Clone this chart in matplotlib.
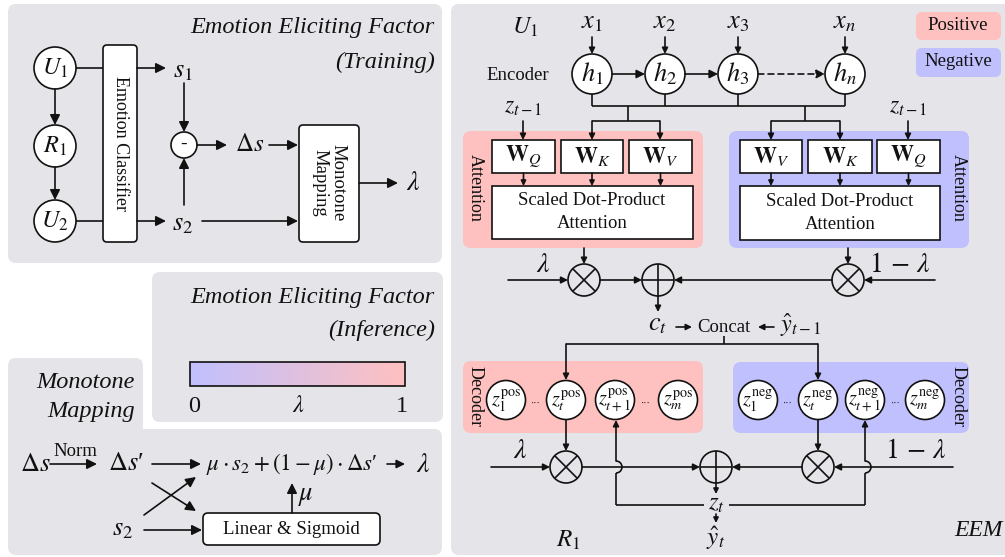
import matplotlib
matplotlib.use('Agg')
import matplotlib.pyplot as plt
from matplotlib.patches import FancyBboxPatch, Circle, Rectangle, Arc
from matplotlib.colors import LinearSegmentedColormap
import numpy as np

plt.rcParams['font.family'] = ['Liberation Serif', 'DejaVu Serif']
plt.rcParams['mathtext.fontset'] = 'stix'

# ---------------- text content ----------------
train_title = ['Emotion Eliciting Factor', '(Training)']
infer_title = ['Emotion Eliciting Factor', '(Inference)']
mono_title = ['Monotone', 'Mapping']
train_nodes = [r'$U_1$', r'$R_1$', r'$U_2$']
train_scores = [r'$s_1$', r'$s_2$']
encoder_inputs = [r'$x_1$', r'$x_2$', r'$x_3$', r'$x_n$']
encoder_states = [r'$h_1$', r'$h_2$', r'$h_3$', r'$h_n$']
pos_proj = [r'$\mathbf{W}_Q$', r'$\mathbf{W}_K$', r'$\mathbf{W}_V$']
neg_proj = [r'$\mathbf{W}_V$', r'$\mathbf{W}_K$', r'$\mathbf{W}_Q$']
pos_dec = [r'$z_1^{\mathrm{pos}}$', r'$z_t^{\mathrm{pos}}$', r'$z_{t+1}^{\mathrm{pos}}$', r'$z_m^{\mathrm{pos}}$']
neg_dec = [r'$z_1^{\mathrm{neg}}$', r'$z_t^{\mathrm{neg}}$', r'$z_{t+1}^{\mathrm{neg}}$', r'$z_m^{\mathrm{neg}}$']
legend_labels = ['Positive', 'Negative']
cbar_ticks = ['0', r'$\lambda$', '1']
weights = [r'$\lambda$', r'$1\,-\,\lambda$']

PANEL = '#e5e4e8'
POS = '#ffc0c0'
NEG = '#c0c0ff'
K = '#111111'
LW = 1.2

fig = plt.figure(figsize=(10.05, 5.57), dpi=100)
ax = fig.add_axes([0, 0, 1, 1])
ax.set_xlim(0, 1005)
ax.set_ylim(557, 0)
ax.axis('off')


def rbox(x0, y0, x1, y1, fc, ec='none', r=8, lw=LW, z=1):
    p = FancyBboxPatch((x0, y0), x1 - x0, y1 - y0,
                       boxstyle=f'round,pad=0,rounding_size={r}',
                       fc=fc, ec=ec, lw=lw, zorder=z)
    ax.add_patch(p)


def rect(x0, y0, x1, y1, fc='white', z=3):
    ax.add_patch(Rectangle((x0, y0), x1 - x0, y1 - y0, fc=fc, ec=K, lw=LW, zorder=z))


def arrow(x0, y0, x1, y1, ms=12, ls='-'):
    ax.annotate('', xy=(x1, y1), xytext=(x0, y0),
                arrowprops=dict(arrowstyle='-|>,head_length=0.5,head_width=0.25',
                                mutation_scale=ms, lw=LW, color=K, linestyle=ls,
                                shrinkA=0, shrinkB=0), zorder=4)


def line(xs, ys):
    ax.plot(xs, ys, color=K, lw=LW, zorder=4, solid_capstyle='butt')


def txt(x, y, s, fs=13, **kw):
    kw.setdefault('ha', 'center')
    kw.setdefault('va', 'center')
    ax.text(x, y, s, fontsize=fs, color=K, zorder=6, **kw)


def node(x, y, r, label, fs=16, dy=0):
    ax.add_patch(Circle((x, y), r, fc='white', ec=K, lw=LW, zorder=3))
    txt(x, y + dy, label, fs)


def otimes(x, y, r=16):
    ax.add_patch(Circle((x, y), r, fc='none', ec=K, lw=LW, zorder=4))
    d = r / np.sqrt(2)
    line([x - d, x + d], [y - d, y + d])
    line([x - d, x + d], [y + d, y - d])


def oplus(x, y, r=16):
    ax.add_patch(Circle((x, y), r, fc='none', ec=K, lw=LW, zorder=4))
    line([x - r, x + r], [y, y])
    line([x, x], [y - r, y + r])


# ================= Training panel =================
rbox(8, 4, 442, 263, PANEL)
txt(435, 27, train_title[0], 17.5, ha='right', style='italic')
txt(435, 62, train_title[1], 17.5, ha='right', style='italic')
node_y = [68, 146, 221]
for yy, lab in zip(node_y, train_nodes):
    node(55, yy, 21, lab, 17.5)
arrow(55, 89, 55, 125)
arrow(55, 167, 55, 200)
rbox(103, 45, 137, 242, 'white', ec=K, r=4, z=3)
txt(120, 143, 'Emotion Classifier', 13, rotation=-90)
line([76, 103], [68, 68])
line([76, 103], [221, 221])
arrow(137, 68, 166, 68)
arrow(137, 221, 166, 221)
txt(183, 72, train_scores[0], 19)
txt(183, 225, train_scores[1], 19)
ax.add_patch(Circle((184, 145), 13, fc='white', ec=K, lw=LW, zorder=3))
txt(184, 144, '-', 14)
arrow(184, 83, 184, 132)
arrow(184, 205, 184, 158)
arrow(197, 145, 227, 145)
txt(250, 145, r'$\Delta s$', 18)
arrow(269, 145, 298, 145)
rbox(299, 125, 359, 242, 'white', ec=K, r=4, z=3)
txt(329, 183, 'Monotone\nMapping', 13.5, rotation=-90, linespacing=1.1)
arrow(202, 221, 298, 221)
arrow(359, 183, 398, 183)
txt(413, 183, r'$\lambda$', 20)

# ================= Inference panel =================
rbox(152, 272, 443, 422, PANEL)
txt(435, 297, infer_title[0], 17.5, ha='right', style='italic')
txt(435, 330, infer_title[1], 17.5, ha='right', style='italic')
cmap = LinearSegmentedColormap.from_list('lam', [NEG, POS])
grad = np.linspace(0, 1, 256).reshape(1, -1)
ax.imshow(grad, cmap=cmap, extent=(190, 405, 386, 362), aspect='auto', zorder=3)
ax.add_patch(Rectangle((190, 362), 215, 24, fc='none', ec=K, lw=LW, zorder=4))
for xx, lab in zip([194, 298, 402], cbar_ticks):
    txt(xx, 407, lab, 17.5)
ax.set_xlim(0, 1005)
ax.set_ylim(557, 0)

# ================= Monotone Mapping panel =================
rbox(8, 358, 143, 450, PANEL)
rbox(8, 429, 442, 555, PANEL)
txt(135, 382, mono_title[0], 17.5, ha='right', style='italic')
txt(135, 412, mono_title[1], 17.5, ha='right', style='italic')
txt(35, 465, r'$\Delta s$', 19)
txt(75, 451, 'Norm', 13.5)
arrow(50, 464, 97, 464)
txt(126, 464, r"$\Delta s$" + "\u2032", 19)
arrow(152, 464, 201, 464)
txt(292, 464, r"$\mu\cdot s_2+(1-\mu)\cdot\Delta s$" + "\u2032", 16.5)
arrow(387, 464, 405, 464, ms=10)
txt(423, 465, r'$\lambda$', 20)
arrow(152, 483, 196, 511)
arrow(144, 515, 196, 477)
txt(123, 530, train_scores[1], 19)
arrow(144, 530, 202, 530)
rbox(203, 513, 380, 545, 'white', ec=K, r=5, z=3)
txt(291, 529, 'Linear & Sigmoid', 13.5)
arrow(292, 513, 292, 483)
txt(306, 497, r'$\mu$', 19)

# ================= EEM panel =================
rbox(451, 4, 1020, 555, PANEL)
txt(525, 27, train_nodes[0], 17.5)
rbox(916, 12, 1001, 40, POS, r=6, z=2)
rbox(916, 48, 1001, 77, NEG, r=6, z=2)
txt(958, 26, legend_labels[0], 13.5)
txt(958, 62, legend_labels[1], 13.5)

enc_x = [592, 665, 738, 845]
for xx, xl, hl in zip(enc_x, encoder_inputs, encoder_states):
    txt(xx, 23, xl, 19)
    arrow(xx, 37, xx, 54, ms=7)
    node(xx, 74, 20, hl, 19)
    line([xx, xx], [94, 106])
txt(518, 75, 'Encoder', 13.5)
arrow(612, 74, 645, 74, ms=10)
arrow(685, 74, 718, 74, ms=10)
arrow(758, 74, 825, 74, ms=10, ls=(0, (3.5, 2.5)))
line([592, 845], [106, 106])
line([628, 628], [106, 121])
line([805, 805], [106, 121])

# attention blocks
rbox(463, 131, 703, 248, POS, z=2)
rbox(729, 131, 969, 248, NEG, z=2)
pos_w = [(492, 555), (561, 623), (629, 692)]
neg_w = [(740, 802), (808, 872), (877, 940)]
for (a, b), lab in zip(pos_w, pos_proj):
    rect(a, 140, b, 173)
    txt((a + b) / 2, 157, lab, 16.5)
    arrow((a + b) / 2, 173, (a + b) / 2, 186, ms=6)
for (a, b), lab in zip(neg_w, neg_proj):
    rect(a, 140, b, 173)
    txt((a + b) / 2, 157, lab, 16.5)
    arrow((a + b) / 2, 173, (a + b) / 2, 186, ms=6)
line([592, 660], [121, 121])
arrow(592, 121, 592, 140, ms=7)
arrow(660, 121, 660, 140, ms=7)
line([771, 840], [121, 121])
arrow(771, 121, 771, 140, ms=7)
arrow(840, 121, 840, 140, ms=7)
txt(523, 108, r'$z_{t-1}$', 17)
arrow(523, 121, 523, 140, ms=7)
txt(908, 108, r'$z_{t-1}$', 17)
arrow(908, 121, 908, 140, ms=7)
rect(492, 186, 693, 239)
rect(740, 186, 940, 240)
txt(592, 212, 'Scaled Dot-Product\nAttention', 13.5, linespacing=1.4)
txt(840, 213, 'Scaled Dot-Product\nAttention', 13.5, linespacing=1.4)
txt(475, 188, 'Attention', 13, rotation=-90)
txt(958, 188, 'Attention', 13, rotation=-90)

# attention fusion
otimes(584, 280)
oplus(658, 280)
otimes(848, 280)
arrow(584, 248, 584, 264, ms=7)
arrow(848, 248, 848, 264, ms=7)
txt(543, 266, weights[0], 20)
txt(900, 265, weights[1], 20)
arrow(508, 280, 568, 280, ms=8)
arrow(600, 280, 642, 280, ms=8)
arrow(935, 280, 864, 280, ms=8)
arrow(832, 280, 674, 280, ms=8)
arrow(658, 296, 658, 312, ms=7)
txt(658, 325, r'$c_t$', 19)
arrow(676, 327, 692, 327, ms=7)
txt(724, 327, 'Concat', 13.5)
arrow(774, 327, 758, 327, ms=7)
txt(801, 325, r'$\hat{y}_{t-1}$', 17.5)
line([724, 724], [336, 344])
line([566, 818], [344, 344])
arrow(566, 344, 566, 380, ms=7)
arrow(818, 344, 818, 380, ms=7)

# decoders
rbox(463, 361, 703, 433, POS, z=2)
rbox(733, 362, 969, 433, NEG, z=2)
pos_dx = [506, 566, 615, 678]
neg_dx = [758, 818, 865, 925]
for xx, lab in zip(pos_dx, pos_dec):
    node(xx, 400, 19.5, lab, 14.5, dy=1)
for xx, lab in zip(neg_dx, neg_dec):
    node(xx, 400, 19.5, lab, 14.5, dy=1)
for xx in [536, 646, 788, 896]:
    txt(xx, 403, '···', 7)
txt(475, 397, 'Decoder', 13, rotation=-90)
txt(958, 397, 'Decoder', 13, rotation=-90)

# decoder fusion
otimes(566, 467)
oplus(716, 467)
otimes(818, 467)
arrow(566, 420, 566, 451, ms=7)
arrow(818, 420, 818, 451, ms=7)
txt(520, 452, weights[0], 20)
txt(916, 451, weights[1], 20)
arrow(491, 467, 550, 467, ms=8)
arrow(582, 467, 700, 467, ms=8)
arrow(953, 467, 834, 467, ms=8)
arrow(802, 467, 732, 467, ms=8)

# feedback loops with hops
for xx, x_end in [(616, 704), (865, 729)]:
    line([x_end, xx], [505, 505])
    line([xx, xx], [505, 473])
    ax.add_patch(Arc((xx, 467), 12, 12, theta1=-90, theta2=90, color=K, lw=LW, zorder=4))
    arrow(xx, 461, xx, 420, ms=7)

arrow(716, 483, 716, 494, ms=6)
txt(716, 504, r'$z_t$', 18)
arrow(716, 514, 716, 523, ms=6)
txt(716, 538, r'$\hat{y}_t$', 18)
txt(568, 540, train_nodes[1], 18)
txt(978, 530, 'EEM', 17, style='italic')

fig.savefig('out.png', dpi=100)
